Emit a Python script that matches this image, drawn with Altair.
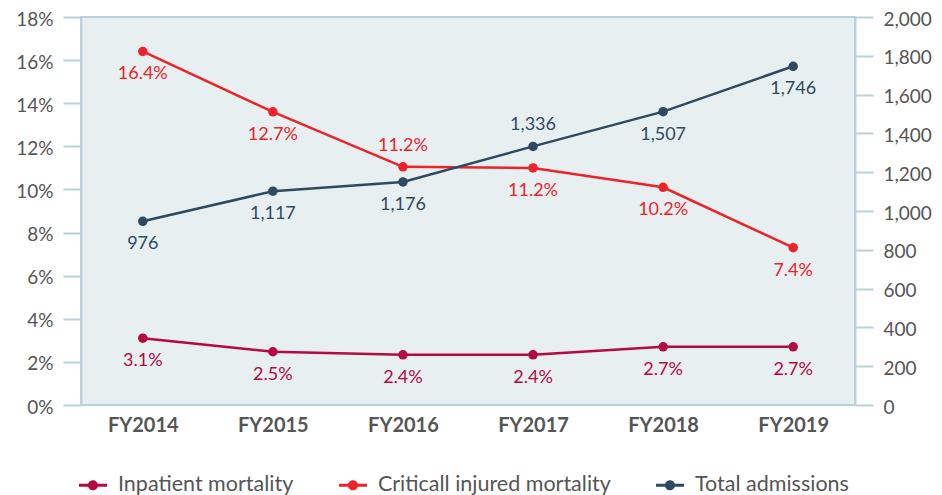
import altair as alt
import pandas as pd

YEARS = ["FY2014", "FY2015", "FY2016", "FY2017", "FY2018", "FY2019"]
SERIES = ["Inpatient mortality", "Criticall injured mortality", "Total admissions"]

INPATIENT = [3.1, 2.47, 2.33, 2.33, 2.7, 2.7]
INPATIENT_LABELS = ["3.1%", "2.5%", "2.4%", "2.4%", "2.7%", "2.7%"]
CRITICAL = [16.4, 13.6, 11.05, 11.0, 10.1, 7.3]
CRITICAL_LABELS = ["16.4%", "12.7%", "11.2%", "11.2%", "10.2%", "7.4%"]
ADMISSIONS = [947, 1102, 1150, 1333, 1512, 1746]
ADMISSIONS_LABELS = ["976", "1,117", "1,176", "1,336", "1,507", "1,746"]

# labels drawn above their point (all others below)
ABOVE = {("Criticall injured mortality", "FY2016"), ("Total admissions", "FY2017")}

COLORS = ["#b5093f", "#ee2229", "#2d4a62"]
LINE = "#b9d1d9"
TEXT = "#555555"
BG = "#e7eff1"
FONT = "Lato"

rows = []
for s, vals, labs in [
    (SERIES[0], INPATIENT, INPATIENT_LABELS),
    (SERIES[1], CRITICAL, CRITICAL_LABELS),
    (SERIES[2], ADMISSIONS, ADMISSIONS_LABELS),
]:
    for yr, v, lab in zip(YEARS, vals, labs):
        rows.append({"year": yr, "series": s, "value": v, "label": lab,
                     "above": (s, yr) in ABOVE})
df = pd.DataFrame(rows)

x_enc = alt.X(
    "year:N", sort=YEARS,
    scale=alt.Scale(type="point", padding=0.475),
    axis=alt.Axis(title=None, labelAngle=0, ticks=False, domain=False,
                  labelFont=FONT, labelFontWeight="bold", labelFontSize=20,
                  labelColor=TEXT, labelPadding=10),
)

color_scale = alt.Scale(domain=SERIES, range=COLORS)

LEGEND_PATH = ("M-1,-0.1L1,-0.1L1,0.1L-1,0.1Z "
               "M-0.36,0A0.36,0.36,0,1,1,0.36,0A0.36,0.36,0,1,1,-0.36,0Z")

legend = alt.Legend(
    title=None, orient="none", direction="horizontal",
    legendX=-2, legendY=454,
    symbolType=LEGEND_PATH, symbolSize=784, symbolStrokeWidth=0,
    symbolOpacity=1,
    labelFont=FONT, labelFontSize=21.5, labelColor=TEXT, labelLimit=0,
    labelOffset=11, columnPadding=45, padding=0,
)


def series_layers(y_enc):
    color = alt.Color("series:N", scale=color_scale, legend=legend)
    line = alt.Chart().mark_line(strokeWidth=2.5).encode(
        x=x_enc, y=y_enc, color=color,
    )
    pts = alt.Chart().mark_point(filled=True, size=90, opacity=1).encode(
        x=x_enc, y=y_enc, color=color,
    )
    below = alt.Chart().mark_text(font=FONT, fontSize=18, dy=23).encode(
        x=x_enc, y=y_enc, text="label:N", color=color,
    ).transform_filter("!datum.above")
    above = alt.Chart().mark_text(font=FONT, fontSize=18, dy=-21).encode(
        x=x_enc, y=y_enc, text="label:N", color=color,
    ).transform_filter("datum.above")
    return [line, pts, below, above]


y_left = alt.Y(
    "value:Q",
    scale=alt.Scale(domain=[0, 18], nice=False),
    axis=alt.Axis(title=None, orient="left", values=list(range(0, 19, 2)),
                  labelExpr="datum.value + '%'", tickSize=18, tickColor=LINE,
                  tickWidth=2, domainColor=LINE, domainWidth=2, grid=False,
                  labelFont=FONT, labelFontSize=19, labelColor=TEXT,
                  labelPadding=10, labelOffset=2),
)
y_right = alt.Y(
    "value:Q",
    scale=alt.Scale(domain=[0, 2000], nice=False),
    axis=alt.Axis(title=None, orient="right", values=list(range(0, 2001, 200)),
                  format=",.0f", tickSize=18, tickColor=LINE, tickWidth=2,
                  domainColor=LINE, domainWidth=2, grid=False,
                  labelFont=FONT, labelFontSize=19, labelColor=TEXT,
                  labelPadding=10, labelOffset=2),
)

left = alt.layer(*series_layers(y_left)).transform_filter(
    "datum.series != 'Total admissions'")
right = alt.layer(*series_layers(y_right)).transform_filter(
    "datum.series == 'Total admissions'")

chart = alt.layer(left, right, data=df).resolve_scale(
    y="independent"
).properties(
    width=774, height=388,
    autosize=alt.AutoSizeParams(type="none"),
    padding={"left": 73, "top": 9, "right": 78, "bottom": 90},
).configure_view(
    fill=BG, stroke=LINE, strokeWidth=2,
)

chart.save("out.html", embed_options={"renderer": "svg", "actions": False})
